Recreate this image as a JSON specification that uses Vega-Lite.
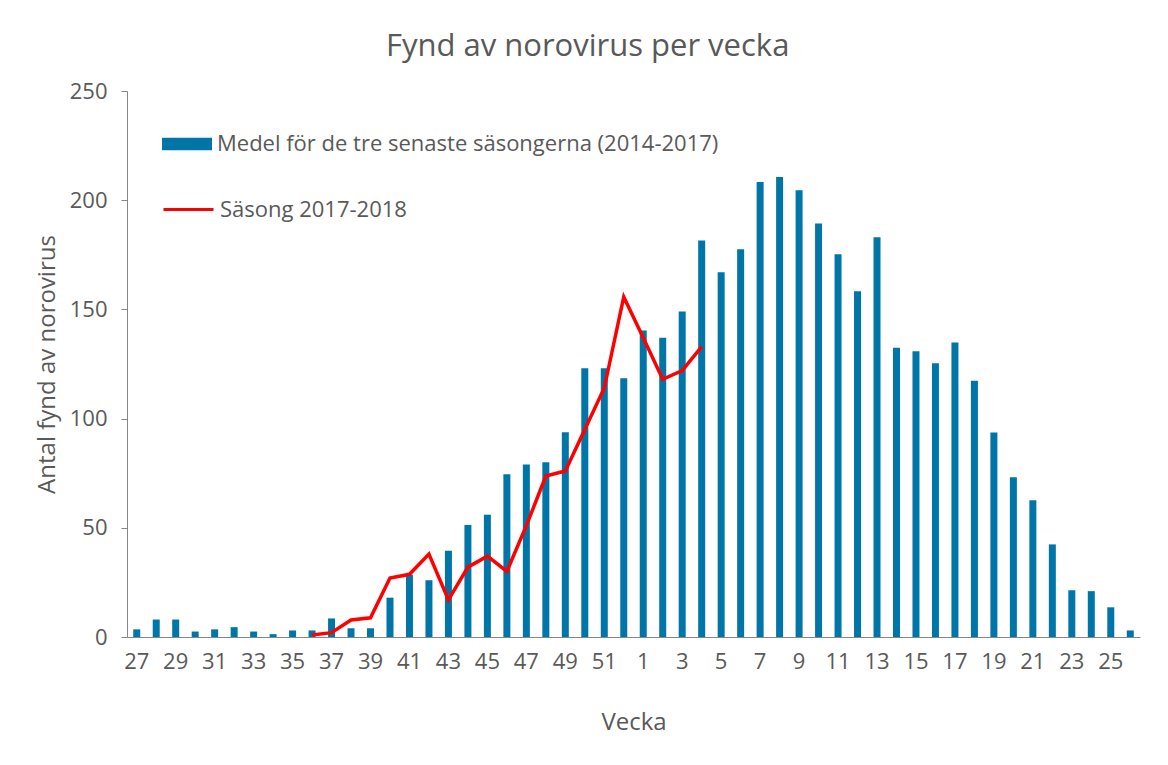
{
  "$schema": "https://vega.github.io/schema/vega-lite/v6.json",
  "width": 1013,
  "height": 546,
  "autosize": {"type": "none"},
  "padding": {"left": 127, "top": 91, "right": 28, "bottom": 128},
  "background": "white",
  "title": {
    "text": "Fynd av norovirus per vecka",
    "font": "Open Sans",
    "fontSize": 31,
    "fontWeight": "normal",
    "color": "#595959",
    "anchor": "middle",
    "frame": "bounds",
    "offset": 17
  },
  "datasets": {
    "medel": [
      {"vecka": 27, "antal": 3.5}, {"vecka": 28, "antal": 8}, {"vecka": 29, "antal": 8},
      {"vecka": 30, "antal": 2.5}, {"vecka": 31, "antal": 3.5}, {"vecka": 32, "antal": 4.5},
      {"vecka": 33, "antal": 2.5}, {"vecka": 34, "antal": 1.3}, {"vecka": 35, "antal": 3},
      {"vecka": 36, "antal": 3}, {"vecka": 37, "antal": 8.5}, {"vecka": 38, "antal": 4},
      {"vecka": 39, "antal": 4}, {"vecka": 40, "antal": 18}, {"vecka": 41, "antal": 28.5},
      {"vecka": 42, "antal": 26}, {"vecka": 43, "antal": 39.5}, {"vecka": 44, "antal": 51.3},
      {"vecka": 45, "antal": 56}, {"vecka": 46, "antal": 74.5}, {"vecka": 47, "antal": 79},
      {"vecka": 48, "antal": 80}, {"vecka": 49, "antal": 93.7}, {"vecka": 50, "antal": 123},
      {"vecka": 51, "antal": 123}, {"vecka": 52, "antal": 118.5}, {"vecka": 1, "antal": 140.3},
      {"vecka": 2, "antal": 137}, {"vecka": 3, "antal": 149}, {"vecka": 4, "antal": 181.5},
      {"vecka": 5, "antal": 167}, {"vecka": 6, "antal": 177.5}, {"vecka": 7, "antal": 208.3},
      {"vecka": 8, "antal": 210.6}, {"vecka": 9, "antal": 204.6}, {"vecka": 10, "antal": 189.3},
      {"vecka": 11, "antal": 175.3}, {"vecka": 12, "antal": 158.3}, {"vecka": 13, "antal": 183},
      {"vecka": 14, "antal": 132.4}, {"vecka": 15, "antal": 130.8}, {"vecka": 16, "antal": 125.3},
      {"vecka": 17, "antal": 134.8}, {"vecka": 18, "antal": 117.3}, {"vecka": 19, "antal": 93.6},
      {"vecka": 20, "antal": 73.2}, {"vecka": 21, "antal": 62.6}, {"vecka": 22, "antal": 42.4},
      {"vecka": 23, "antal": 21.4}, {"vecka": 24, "antal": 21}, {"vecka": 25, "antal": 13.6},
      {"vecka": 26, "antal": 3}
    ],
    "sasong": [
      {"vecka": 36, "antal": 0.9}, {"vecka": 37, "antal": 2}, {"vecka": 38, "antal": 7.8},
      {"vecka": 39, "antal": 8.8}, {"vecka": 40, "antal": 27}, {"vecka": 41, "antal": 28.7},
      {"vecka": 42, "antal": 38}, {"vecka": 43, "antal": 17}, {"vecka": 44, "antal": 32},
      {"vecka": 45, "antal": 37}, {"vecka": 46, "antal": 30}, {"vecka": 47, "antal": 51},
      {"vecka": 48, "antal": 73.7}, {"vecka": 49, "antal": 76}, {"vecka": 50, "antal": 95},
      {"vecka": 51, "antal": 114}, {"vecka": 52, "antal": 155.7}, {"vecka": 1, "antal": 137},
      {"vecka": 2, "antal": 118}, {"vecka": 3, "antal": 122}, {"vecka": 4, "antal": 133}
    ]
  },
  "config": {
    "view": {"stroke": null},
    "axis": {
      "labelFont": "Open Sans",
      "titleFont": "Open Sans",
      "labelColor": "#595959",
      "titleColor": "#595959",
      "domainColor": "#868686",
      "tickColor": "#868686",
      "grid": false,
      "titleFontWeight": "normal"
    },
    "legend": {
      "labelFont": "Open Sans",
      "labelColor": "#595959",
      "labelLimit": 0
    }
  },
  "encoding": {
    "x": {
      "field": "vecka",
      "type": "ordinal",
      "sort": null,
      "scale": {
        "domain": [27,28,29,30,31,32,33,34,35,36,37,38,39,40,41,42,43,44,45,46,47,48,49,50,51,52,1,2,3,4,5,6,7,8,9,10,11,12,13,14,15,16,17,18,19,20,21,22,23,24,25,26],
        "paddingInner": 0,
        "paddingOuter": 0
      },
      "axis": {
        "title": "Vecka",
        "titleFontSize": 24,
        "titlePadding": 38,
        "labelFontSize": 22,
        "labelAngle": 0,
        "labelPadding": 14,
        "ticks": false,
        "tickSize": 0,
        "values": [27,29,31,33,35,37,39,41,43,45,47,49,51,1,3,5,7,9,11,13,15,17,19,21,23,25]
      }
    },
    "y": {
      "field": "antal",
      "type": "quantitative",
      "scale": {"domain": [0, 250], "nice": false},
      "axis": {
        "title": "Antal fynd av norovirus",
        "titleFontSize": 24,
        "titlePadding": 10,
        "labelFontSize": 22,
        "labelPadding": 14,
        "tickSize": 6,
        "values": [0, 50, 100, 150, 200, 250]
      }
    }
  },
  "layer": [
    {
      "data": {"name": "medel"},
      "mark": {"type": "bar", "size": 7},
      "encoding": {
        "color": {
          "datum": "Medel för de tre senaste säsongerna (2014-2017)",
          "type": "nominal",
          "scale": {"range": ["#0076A8"]},
          "legend": {
            "title": null,
            "orient": "none",
            "legendX": 35,
            "legendY": 28,
            "padding": 0,
            "symbolType": "M-1,-0.25H1V0.25H-1Z",
            "symbolSize": 2500,
            "symbolStrokeWidth": 0,
            "labelFontSize": 22,
            "labelOffset": 5
          }
        }
      }
    },
    {
      "data": {"name": "sasong"},
      "mark": {"type": "line", "strokeWidth": 3.5},
      "encoding": {
        "stroke": {
          "datum": "Säsong 2017-2018",
          "type": "nominal",
          "scale": {"range": ["#FF0000"]},
          "legend": {
            "title": null,
            "orient": "none",
            "legendX": 35,
            "legendY": 92,
            "padding": 0,
            "symbolType": "stroke",
            "symbolSize": 2500,
            "symbolStrokeWidth": 3,
            "labelFontSize": 22,
            "labelOffset": 5
          }
        }
      }
    }
  ]
}
